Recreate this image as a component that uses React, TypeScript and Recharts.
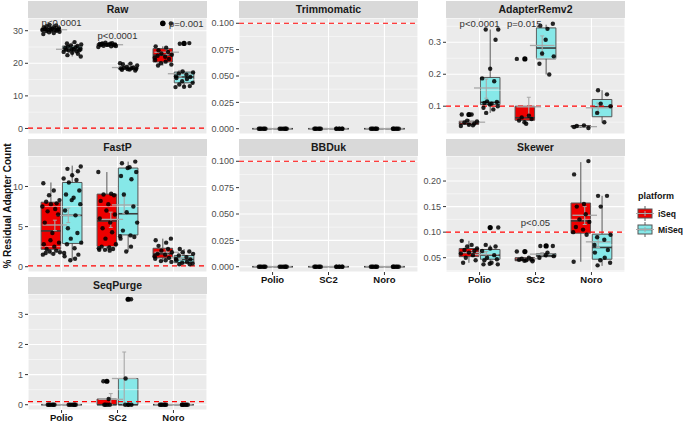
import React from "react";
import {
  ComposedChart,
  Scatter,
  XAxis,
  YAxis,
  CartesianGrid,
  ReferenceLine,
  ReferenceArea,
} from "recharts";

const CATEGORIES = ["Polio", "SC2", "Noro"];
const PLATFORMS = ["iSeq", "MiSeq"];
const THRESHOLD = 0.1;

// box stats per category: [lower whisker, q1, median, q3, upper whisker]
// mean summaries per category: [mean, lower, upper]

const RAW_ISEQ_BOX = [
  [29.2, 30.0, 30.3, 30.7, 31.6],
  [25.0, 25.5, 25.8, 26.0, 26.3],
  [19.3, 20.4, 22.5, 24.5, 25.2],
];
const RAW_MISEQ_BOX = [
  [22.1, 23.8, 24.3, 25.3, 26.5],
  [17.8, 18.2, 18.5, 18.8, 20.0],
  [12.7, 14.0, 15.8, 17.3, 17.5],
];
const RAW_ISEQ_MEAN = [[30.3, 30.1, 30.5], [25.7, 25.6, 25.8], [23.4, 22.6, 24.2]];
const RAW_MISEQ_MEAN = [[24.3, 24.0, 24.6], [18.7, 18.5, 18.9], [16.8, 15.8, 17.8]];
const RAW_ISEQ_PTS = [
  [29.0, 29.3, 29.5, 29.7, 29.9, 30.0, 30.1, 30.2, 30.3, 30.3, 30.4, 30.5, 30.6, 30.7, 30.8, 31.0, 31.2, 31.4, 31.6, 31.8],
  [25.0, 25.2, 25.4, 25.5, 25.6, 25.7, 25.7, 25.8, 25.9, 26.0, 26.1, 26.2, 26.3, 25.3, 25.9],
  [32.2, 25.2, 24.8, 24.0, 23.5, 23.0, 22.6, 22.3, 22.0, 21.7, 21.3, 21.0, 20.5, 20.0, 19.6, 19.3],
];
const RAW_MISEQ_PTS = [
  [22.1, 22.5, 22.9, 23.2, 23.5, 23.7, 23.9, 24.0, 24.2, 24.3, 24.4, 24.5, 24.7, 24.9, 25.1, 25.3, 25.5, 25.8, 26.1, 26.5],
  [17.8, 18.0, 18.1, 18.2, 18.3, 18.4, 18.5, 18.6, 18.7, 18.9, 19.3, 19.7, 19.9, 20.0],
  [26.0, 26.2, 17.5, 17.2, 16.9, 16.5, 16.0, 15.8, 15.5, 15.2, 14.5, 14.0, 13.5, 13.0, 12.8, 12.7],
];
const RAW_ISEQ_OUT = [[], [], [32.2, 32.3]];
const RAW_MISEQ_OUT = [[], [], [26.1]];
const RAW_PVALS = [
  { x: 1, y: 32.6, text: "p<0.0001" },
  { x: 2, y: 28.4, text: "p<0.0001" },
  { x: 3.23, y: 32.1, text: "p=0.001" },
];

const ZERO_BOX = [[0, 0, 0, 0, 0], [0, 0, 0, 0, 0], [0, 0, 0, 0, 0]];
const ZERO_MEAN = [[0, 0, 0], [0, 0, 0], [0, 0, 0]];
const ZERO_PTS = [[0, 0, 0, 0, 0, 0], [0, 0, 0, 0, 0, 0], [0, 0, 0, 0, 0, 0]];
const NO_OUT = [[], [], []];

const ADR_ISEQ_BOX = [
  [0.038, 0.043, 0.048, 0.053, 0.06],
  [0.043, 0.056, 0.064, 0.1, 0.1],
  [0.032, 0.035, 0.037, 0.039, 0.04],
];
const ADR_MISEQ_BOX = [
  [0.079, 0.105, 0.112, 0.19, 0.34],
  [0.199, 0.248, 0.282, 0.345, 0.355],
  [0.048, 0.067, 0.098, 0.121, 0.15],
];
const ADR_ISEQ_MEAN = [[0.05, 0.047, 0.053], [0.098, 0.068, 0.128], [0.036, 0.035, 0.037]];
const ADR_MISEQ_MEAN = [[0.157, 0.125, 0.185], [0.29, 0.258, 0.32], [0.095, 0.08, 0.11]];
const ADR_ISEQ_PTS = [
  [0.074, 0.074, 0.055, 0.052, 0.049, 0.046, 0.042, 0.038, 0.04],
  [0.248, 0.07, 0.065, 0.06, 0.055, 0.045, 0.05],
  [0.032, 0.035, 0.04, 0.038],
];
const ADR_MISEQ_PTS = [
  [0.34, 0.34, 0.308, 0.217, 0.187, 0.178, 0.115, 0.113, 0.11, 0.108, 0.105, 0.1, 0.095, 0.09, 0.079],
  [0.358, 0.352, 0.342, 0.308, 0.256, 0.233, 0.199, 0.265],
  [0.15, 0.137, 0.108, 0.1, 0.079, 0.05],
];
const ADR_ISEQ_OUT = [[0.074], [0.248], []];
const ADR_PVALS = [
  { x: 1, y: 0.358, text: "p<0.0001" },
  { x: 1.8, y: 0.358, text: "p=0.015" },
];

const FASTP_ISEQ_BOX = [
  [1.5, 2.17, 4.46, 8.04, 10.5],
  [2.0, 2.5, 5.7, 9.05, 11.8],
  [0.6, 1.1, 1.6, 2.3, 3.5],
];
const FASTP_MISEQ_BOX = [
  [0.8, 2.9, 6.4, 10.5, 12.6],
  [1.9, 3.96, 6.6, 12.3, 13.1],
  [0.3, 0.5, 0.9, 1.4, 2.2],
];
const FASTP_ISEQ_MEAN = [[5.2, 4.5, 5.8], [5.9, 4.9, 6.8], [1.8, 1.5, 2.1]];
const FASTP_MISEQ_MEAN = [[6.4, 5.5, 7.3], [7.7, 6.6, 8.8], [1.15, 0.9, 1.4]];
const FASTP_ISEQ_PTS = [
  [10.4, 9.5, 8.9, 8.3, 8.1, 7.9, 7.8, 7.5, 7.2, 6.9, 6.5, 5.5, 4.2, 3.3, 3.0, 2.8, 2.5, 2.2, 2.0, 1.9, 1.8, 1.7, 1.6, 1.5],
  [11.8, 9.1, 9.0, 8.9, 8.2, 7.8, 7.0, 6.5, 6.0, 5.5, 4.8, 4.3, 3.5, 2.8, 2.5, 2.4, 2.3, 2.2, 2.1, 2.0, 2.1],
  [3.5, 3.3, 3.0, 2.6, 2.2, 2.0, 1.8, 1.6, 1.5, 1.3, 1.1, 1.0, 0.8, 0.7, 0.6],
];
const FASTP_MISEQ_PTS = [
  [12.5, 12.2, 11.9, 11.4, 11.0, 10.8, 10.5, 9.5, 9.0, 8.6, 8.3, 7.8, 7.0, 6.4, 4.8, 4.2, 3.5, 3.0, 2.8, 2.3, 1.7, 1.5, 1.3, 1.0, 0.8],
  [13.1, 12.9, 12.4, 12.3, 11.8, 11.3, 10.9, 9.0, 7.5, 6.8, 5.5, 4.5, 3.9, 3.8, 3.7, 3.5, 2.5, 1.9],
  [2.2, 1.9, 1.8, 1.6, 1.4, 1.2, 1.0, 0.9, 0.8, 0.6, 0.5, 0.4, 0.3, 0.3],
];

const SKW_ISEQ_BOX = [
  [0.04, 0.052, 0.06, 0.068, 0.083],
  [0.043, 0.044, 0.046, 0.05, 0.05],
  [0.042, 0.098, 0.122, 0.157, 0.237],
];
const SKW_MISEQ_BOX = [
  [0.037, 0.047, 0.055, 0.066, 0.075],
  [0.05, 0.052, 0.054, 0.058, 0.06],
  [0.034, 0.047, 0.07, 0.096, 0.171],
];
const SKW_ISEQ_MEAN = [[0.06, 0.056, 0.064], [0.048, 0.046, 0.05], [0.133, 0.115, 0.15]];
const SKW_MISEQ_MEAN = [[0.056, 0.051, 0.062], [0.057, 0.055, 0.06], [0.081, 0.07, 0.093]];
const SKW_ISEQ_PTS = [
  [0.083, 0.075, 0.072, 0.068, 0.065, 0.063, 0.06, 0.058, 0.055, 0.05, 0.045, 0.04],
  [0.062, 0.05, 0.048, 0.047, 0.046, 0.045, 0.044, 0.043],
  [0.239, 0.213, 0.155, 0.15, 0.135, 0.125, 0.12, 0.11, 0.105, 0.1, 0.095, 0.042],
];
const SKW_MISEQ_PTS = [
  [0.109, 0.075, 0.072, 0.068, 0.063, 0.055, 0.05, 0.047, 0.045, 0.04, 0.038, 0.037, 0.037],
  [0.073, 0.073, 0.06, 0.055, 0.053, 0.05],
  [0.171, 0.171, 0.15, 0.095, 0.09, 0.085, 0.075, 0.065, 0.06, 0.05, 0.045, 0.04, 0.035],
];
const SKW_ISEQ_OUT = [[], [0.062], []];
const SKW_MISEQ_OUT = [[0.109], [0.073], []];
const SKW_PVALS = [{ x: 2, y: 0.119, text: "p<0.05" }];

const SP_ISEQ_BOX = [[0, 0, 0, 0, 0], [0, 0, 0, 0.19, 0.19], [0, 0, 0, 0, 0]];
const SP_MISEQ_BOX = [[0, 0, 0, 0, 0], [0, 0, 0, 0.87, 0.87], [0, 0, 0, 0, 0]];
const SP_ISEQ_MEAN = [[0, 0, 0], [0.18, 0.0, 0.37], [0, 0, 0]];
const SP_MISEQ_MEAN = [[0, 0, 0], [0.87, 0.0, 1.75], [0, 0, 0]];
const SP_ISEQ_PTS = [[0, 0, 0, 0, 0, 0], [0.78, 0.19, 0, 0, 0, 0], [0, 0, 0, 0, 0, 0]];
const SP_MISEQ_PTS = [[0, 0, 0, 0, 0, 0], [3.5, 0.87, 0, 0, 0, 0], [0, 0, 0, 0, 0, 0]];
const SP_ISEQ_OUT = [[], [0.78], []];
const SP_MISEQ_OUT = [[], [3.5], []];

// ---- look ----
const FONT = "'Liberation Sans', Arial, Helvetica, sans-serif";
const FILLS = ["#EE0000", "#86E8E8"];
const COL_LEFT = [28, 239, 446];
const AX_W = [28, 31, 28];
const ROW_TOP = [18, 156, 294];
const PANEL_W = 179;
const PANEL_H = 116;
const STRIP_H = 17;
const BOX_OFF = 0.19;
const BOX_HALF = 0.175;
const MEAN_OFF = 0.12;
const MEAN_HALF = 0.22;
const JIT = [-0.8, 0.3, -0.2, 0.9, -0.5, 0.6, 0.0, -0.9, 0.45, -0.35, 0.75, -0.65, 0.15, -0.05, 0.85, -0.75, 0.35, -0.45, 0.55, -0.15, 0.95, -0.55, 0.25, -0.85, 0.65];

type PanelDef = {
  title: string;
  row: number;
  col: number;
  domain: [number, number];
  ticks: number[];
  digits: number;
  jit: number;
  showX: boolean;
  box: number[][][];
  mean: number[][][];
  pts: number[][][];
  out: number[][][];
  pvals: { x: number; y: number; text: string }[];
};

const PANELS: PanelDef[] = [
  { title: "Raw", row: 0, col: 0, domain: [-1.7, 33.9], ticks: [0, 10, 20, 30], digits: 0, jit: 0.17, showX: false,
    box: [RAW_ISEQ_BOX, RAW_MISEQ_BOX], mean: [RAW_ISEQ_MEAN, RAW_MISEQ_MEAN], pts: [RAW_ISEQ_PTS, RAW_MISEQ_PTS], out: [RAW_ISEQ_OUT, RAW_MISEQ_OUT], pvals: RAW_PVALS },
  { title: "Trimmomatic", row: 0, col: 1, domain: [-0.005, 0.105], ticks: [0, 0.025, 0.05, 0.075, 0.1], digits: 3, jit: 0.07, showX: false,
    box: [ZERO_BOX, ZERO_BOX], mean: [ZERO_MEAN, ZERO_MEAN], pts: [ZERO_PTS, ZERO_PTS], out: [NO_OUT, NO_OUT], pvals: [] },
  { title: "AdapterRemv2", row: 0, col: 2, domain: [0.013, 0.376], ticks: [0.1, 0.2, 0.3], digits: 1, jit: 0.16, showX: false,
    box: [ADR_ISEQ_BOX, ADR_MISEQ_BOX], mean: [ADR_ISEQ_MEAN, ADR_MISEQ_MEAN], pts: [ADR_ISEQ_PTS, ADR_MISEQ_PTS], out: [ADR_ISEQ_OUT, NO_OUT], pvals: ADR_PVALS },
  { title: "FastP", row: 1, col: 0, domain: [-0.66, 13.8], ticks: [0, 5, 10], digits: 0, jit: 0.17, showX: false,
    box: [FASTP_ISEQ_BOX, FASTP_MISEQ_BOX], mean: [FASTP_ISEQ_MEAN, FASTP_MISEQ_MEAN], pts: [FASTP_ISEQ_PTS, FASTP_MISEQ_PTS], out: [NO_OUT, NO_OUT], pvals: [] },
  { title: "BBDuk", row: 1, col: 1, domain: [-0.005, 0.105], ticks: [0, 0.025, 0.05, 0.075, 0.1], digits: 3, jit: 0.07, showX: true,
    box: [ZERO_BOX, ZERO_BOX], mean: [ZERO_MEAN, ZERO_MEAN], pts: [ZERO_PTS, ZERO_PTS], out: [NO_OUT, NO_OUT], pvals: [] },
  { title: "Skewer", row: 1, col: 2, domain: [0.022, 0.249], ticks: [0.05, 0.1, 0.15, 0.2], digits: 2, jit: 0.16, showX: true,
    box: [SKW_ISEQ_BOX, SKW_MISEQ_BOX], mean: [SKW_ISEQ_MEAN, SKW_MISEQ_MEAN], pts: [SKW_ISEQ_PTS, SKW_MISEQ_PTS], out: [SKW_ISEQ_OUT, SKW_MISEQ_OUT], pvals: SKW_PVALS },
  { title: "SeqPurge", row: 2, col: 0, domain: [-0.175, 3.675], ticks: [0, 1, 2, 3], digits: 0, jit: 0.07, showX: true,
    box: [SP_ISEQ_BOX, SP_MISEQ_BOX], mean: [SP_ISEQ_MEAN, SP_MISEQ_MEAN], pts: [SP_ISEQ_PTS, SP_MISEQ_PTS], out: [SP_ISEQ_OUT, SP_MISEQ_OUT], pvals: [] },
];

const minorLines = (ticks: number[], dom: [number, number]) => {
  const step = ticks[1] - ticks[0];
  const res: number[] = [];
  for (let v = ticks[0] - step / 2; v <= dom[1]; v += step) if (v >= dom[0]) res.push(v);
  return res;
};

const Dot = (props: any) => (
  <circle cx={props.cx} cy={props.cy} r={2.2} fill="#000" fillOpacity={0.85} />
);
const BigDot = (props: any) => (
  <circle cx={props.cx} cy={props.cy} r={2.6} fill="#000" />
);
const PText = (props: any) => (
  <text x={props.cx} y={props.cy} textAnchor="middle" dominantBaseline="central"
    fontSize={9.5} fontFamily={FONT} fill="#333">
    {props.payload.text}
  </text>
);

function Facet({ p }: { p: PanelDef }) {
  const axW = AX_W[p.col];
  const h = PANEL_H + (p.showX ? 18 : 0);
  const points: { x: number; y: number }[] = [];
  const outliers: { x: number; y: number }[] = [];
  const marks: React.ReactNode[] = [];
  const summaries: React.ReactNode[] = [];

  PLATFORMS.forEach((_, k) => {
    const off = k === 0 ? -BOX_OFF : BOX_OFF;
    const moff = k === 0 ? -MEAN_OFF : MEAN_OFF;
    CATEGORIES.forEach((__, ci) => {
      const c = ci + 1 + off;
      const [lo, q1, med, q3, hi] = p.box[k][ci];
      const key = `${k}-${ci}`;
      marks.push(
        <ReferenceLine key={"wl" + key} segment={[{ x: c, y: lo }, { x: c, y: q1 }]} stroke="#333" strokeWidth={0.8} ifOverflow="visible" />,
        <ReferenceLine key={"wh" + key} segment={[{ x: c, y: q3 }, { x: c, y: hi }]} stroke="#333" strokeWidth={0.8} ifOverflow="visible" />,
      );
      if (q3 > q1) {
        marks.push(
          <ReferenceArea key={"b" + key} x1={c - BOX_HALF} x2={c + BOX_HALF} y1={q1} y2={q3}
            fill={FILLS[k]} fillOpacity={1} stroke="#555" strokeWidth={1} ifOverflow="visible" />,
        );
      }
      marks.push(
        <ReferenceLine key={"m" + key} segment={[{ x: c - BOX_HALF, y: med }, { x: c + BOX_HALF, y: med }]}
          stroke="#3a3a3a" strokeWidth={1.6} ifOverflow="visible" />,
      );
      const mc = ci + 1 + moff;
      const [mean, mlo, mhi] = p.mean[k][ci];
      summaries.push(
        <ReferenceLine key={"ma" + key} segment={[{ x: mc - MEAN_HALF, y: mean }, { x: mc + MEAN_HALF, y: mean }]}
          stroke="#A8A8A8" strokeWidth={1.3} ifOverflow="visible" />,
        <ReferenceLine key={"me" + key} segment={[{ x: mc, y: mlo }, { x: mc, y: mhi }]}
          stroke="#A8A8A8" strokeWidth={1.1} ifOverflow="visible" />,
        <ReferenceLine key={"mt" + key} segment={[{ x: mc - 0.035, y: mhi }, { x: mc + 0.035, y: mhi }]}
          stroke="#A8A8A8" strokeWidth={1} ifOverflow="visible" />,
        <ReferenceLine key={"mb" + key} segment={[{ x: mc - 0.035, y: mlo }, { x: mc + 0.035, y: mlo }]}
          stroke="#A8A8A8" strokeWidth={1} ifOverflow="visible" />,
      );
      p.pts[k][ci].forEach((v, i) => {
        points.push({ x: c + JIT[(i + ci * 7 + k * 3) % JIT.length] * p.jit, y: v });
      });
      p.out[k][ci].forEach((v) => outliers.push({ x: c, y: v }));
    });
  });

  return (
    <>
      <div
        style={{
          position: "absolute",
          left: COL_LEFT[p.col],
          top: ROW_TOP[p.row] - STRIP_H,
          width: PANEL_W,
          height: STRIP_H,
          background: "#D9D9D9",
          color: "#1A1A1A",
          fontFamily: FONT,
          fontWeight: "bold",
          fontSize: 10.5,
          lineHeight: `${STRIP_H}px`,
          textAlign: "center",
        }}
      >
        {p.title}
      </div>
      <div style={{ position: "absolute", left: COL_LEFT[p.col] - axW, top: ROW_TOP[p.row] }}>
        <ComposedChart width={axW + PANEL_W} height={h} margin={{ top: 0, right: 0, bottom: 0, left: 0 }}
          style={{ overflow: "visible" }}>
          <CartesianGrid fill="#EBEBEB" stroke="#FFFFFF" strokeWidth={1.1} />
          <XAxis
            type="number"
            dataKey="x"
            domain={[0.4, 3.6]}
            ticks={[1, 2, 3]}
            hide={!p.showX}
            height={18}
            axisLine={false}
            tickSize={3}
            tickMargin={1}
            tickLine={{ stroke: "#333" }}
            tickFormatter={(v: number) => CATEGORIES[v - 1]}
            tick={{ fontSize: 9.5, fontWeight: "bold", fill: "#111", fontFamily: FONT }}
          />
          <YAxis
            type="number"
            dataKey="y"
            domain={p.domain}
            ticks={p.ticks}
            width={axW}
            axisLine={false}
            tickSize={3}
            tickMargin={2}
            tickLine={{ stroke: "#333" }}
            tickFormatter={(v: number) => v.toFixed(p.digits)}
            tick={{ fontSize: 9, fill: "#4D4D4D", fontFamily: FONT }}
          />
          {minorLines(p.ticks, p.domain).map((v) => (
            <ReferenceLine key={"g" + v} y={v} stroke="#FFFFFF" strokeWidth={0.5} />
          ))}
          {marks}
          <ReferenceLine y={THRESHOLD} stroke="#FF0000" strokeWidth={1.2} strokeDasharray="5 4" />
          {summaries}
          <Scatter data={outliers} dataKey="y" shape={BigDot} isAnimationActive={false} />
          <Scatter data={points} dataKey="y" shape={Dot} isAnimationActive={false} />
          <Scatter data={p.pvals} dataKey="y" shape={PText} isAnimationActive={false} />
        </ComposedChart>
      </div>
    </>
  );
}

function LegendBox() {
  const key = (y: number, fill: string) => (
    <g>
      <line x1={12} x2={12} y1={y} y2={y + 15} stroke="#333" strokeWidth={0.8} />
      <rect x={5} y={y + 3} width={14} height={9} fill={fill} stroke="#555" strokeWidth={1} />
      <line x1={5} x2={19} y1={y + 7.5} y2={y + 7.5} stroke="#3a3a3a" strokeWidth={1.4} />
      <line x1={3} x2={21} y1={y + 7.5} y2={y + 7.5} stroke="#A8A8A8" strokeWidth={1} />
      <line x1={12} x2={12} y1={y + 5} y2={y + 10} stroke="#A8A8A8" strokeWidth={1} />
    </g>
  );
  return (
    <svg style={{ position: "absolute", left: 633, top: 186 }} width={52} height={56}>
      <text x={5} y={13} fontFamily={FONT} fontSize={9} fontWeight="bold" fill="#111">platform</text>
      {key(20, FILLS[0])}
      {key(36, FILLS[1])}
      <text x={25} y={30.5} fontFamily={FONT} fontSize={8.5} fontWeight="bold" fill="#111">{PLATFORMS[0]}</text>
      <text x={25} y={46.5} fontFamily={FONT} fontSize={8.5} fontWeight="bold" fill="#111">{PLATFORMS[1]}</text>
    </svg>
  );
}

export default function App() {
  return (
    <div style={{ position: "absolute", left: 0, top: 0, width: 685, height: 422, background: "#fff", overflow: "hidden" }}>
      {PANELS.map((p) => (
        <Facet key={p.title} p={p} />
      ))}
      <LegendBox />
      <svg style={{ position: "absolute", left: 0, top: 0 }} width={16} height={422}>
        <text x={0} y={0} transform="translate(10.5,206) rotate(-90)" textAnchor="middle"
          fontFamily={FONT} fontSize={10} fontWeight="bold" fill="#111">
          % Residual Adapter Count
        </text>
      </svg>
    </div>
  );
}
